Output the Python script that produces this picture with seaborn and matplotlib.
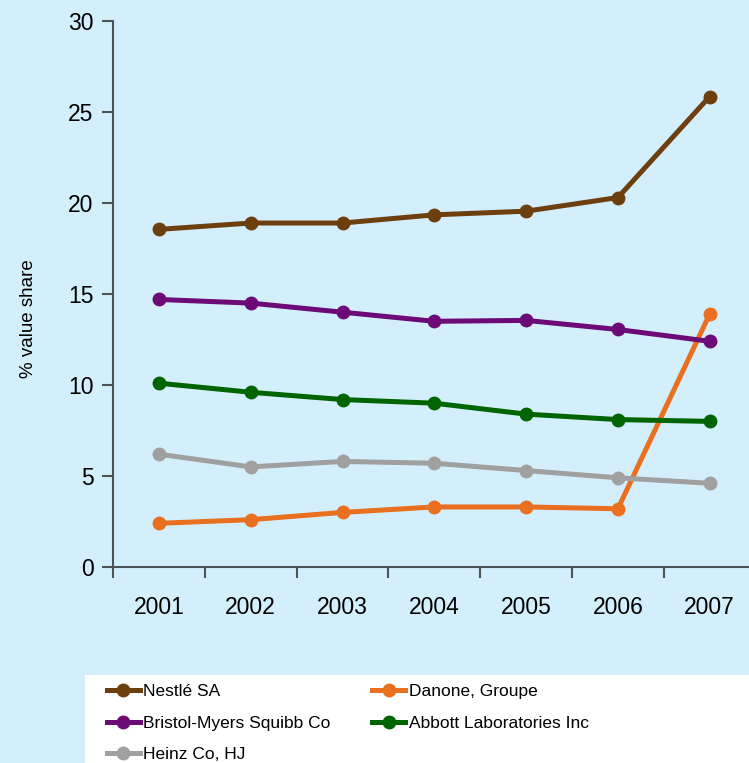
import pandas as pd
import seaborn as sns
import matplotlib.pyplot as plt
from matplotlib.patches import Rectangle

years = [2001, 2002, 2003, 2004, 2005, 2006, 2007]
nestle = [18.55, 18.9, 18.9, 19.35, 19.55, 20.3, 25.85]
danone = [2.4, 2.6, 3.0, 3.3, 3.3, 3.2, 13.9]
bristol = [14.7, 14.5, 14.0, 13.5, 13.55, 13.05, 12.4]
abbott = [10.1, 9.6, 9.2, 9.0, 8.4, 8.1, 8.0]
heinz = [6.2, 5.5, 5.8, 5.7, 5.3, 4.9, 4.6]

companies = ["Nestlé SA", "Danone, Groupe", "Bristol-Myers Squibb Co",
             "Abbott Laboratories Inc", "Heinz Co, HJ"]
series = [nestle, danone, bristol, abbott, heinz]
palette = {
    "Nestlé SA": "#6E3F0E",
    "Danone, Groupe": "#E8701F",
    "Bristol-Myers Squibb Co": "#6C0A78",
    "Abbott Laboratories Inc": "#006400",
    "Heinz Co, HJ": "#A0A0A0",
}

rows = []
for name, vals in zip(companies, series):
    for yr, v in zip(years, vals):
        rows.append({"year": yr, "share": v, "company": name})
df = pd.DataFrame(rows)

BG = "#D4EFFC"
SPINE = "#4B5558"
plt.rcParams["font.family"] = ["Liberation Sans", "DejaVu Sans"]

fig = plt.figure(figsize=(7.49, 7.63), dpi=100, facecolor=BG)
ax = fig.add_axes([113 / 749, 1 - 567 / 763, 642.6 / 749, 546 / 763])
ax.set_facecolor("none")

# Danone first so it sits underneath the others
draw_order = ["Danone, Groupe", "Nestlé SA", "Bristol-Myers Squibb Co",
              "Abbott Laboratories Inc", "Heinz Co, HJ"]
sns.lineplot(data=df, x="year", y="share", hue="company", hue_order=draw_order,
             palette=palette, marker="o", markersize=10, markeredgewidth=0,
             linewidth=3.6, ax=ax, legend=True)

handles, labels = ax.get_legend_handles_labels()
ax.get_legend().remove()
lookup = dict(zip(labels, handles))

ax.set_xlim(2000.5, 2007.5)
ax.set_ylim(0, 30)
ax.set_yticks([0, 5, 10, 15, 20, 25, 30])
ax.set_xticks([y - 0.5 for y in years] + [2007.5])
ax.set_xticklabels([])
ax.set_xticks(years, minor=True)
ax.set_xticklabels([str(y) for y in years], minor=True)
ax.tick_params(axis="x", which="major", length=8, width=1.5, color=SPINE, direction="out")
ax.tick_params(axis="x", which="minor", length=0, labelsize=16.5, pad=21)
ax.tick_params(axis="y", length=8, width=1.5, color=SPINE, labelsize=16.5, pad=6)
ax.set_xlabel("")
ax.set_ylabel("% value share", fontsize=13.5)
ax.yaxis.set_label_coords(-0.118, 0.455)
for side in ["top", "right"]:
    ax.spines[side].set_visible(False)
for side in ["left", "bottom"]:
    ax.spines[side].set_color(SPINE)
    ax.spines[side].set_linewidth(1.5)
ax.grid(False)

# white legend panel at the bottom
fig.patches.append(Rectangle((85 / 749, 0), 1, 88 / 763, transform=fig.transFigure,
                             facecolor="white", edgecolor="none", zorder=0))
legend_order = ["Nestlé SA", "Bristol-Myers Squibb Co", "Heinz Co, HJ",
                "Danone, Groupe", "Abbott Laboratories Inc"]
fig.legend([lookup[n] for n in legend_order], legend_order, ncol=2,
           loc="upper left", bbox_to_anchor=(100 / 749, 1 - 677 / 763),
           frameon=False, prop={"size": 12.5},
           handlelength=1.9, handletextpad=0.2, columnspacing=2.4,
           labelspacing=0.95, borderaxespad=0)

fig.savefig("out.png", dpi=100, facecolor=BG)
